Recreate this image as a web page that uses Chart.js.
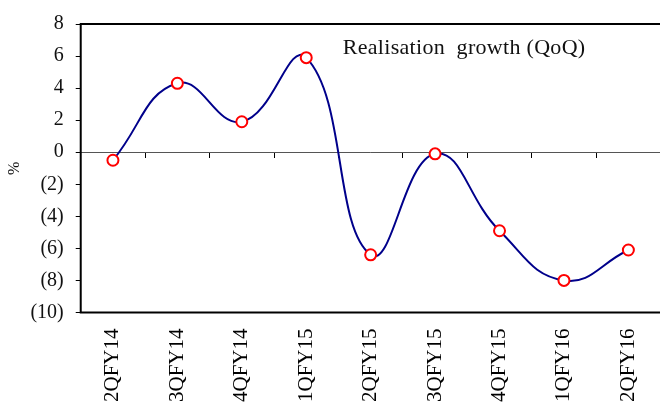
<!DOCTYPE html>
<html>
<head>
<meta charset="utf-8">
<script src="https://cdn.jsdelivr.net/npm/chart.js@4/dist/chart.umd.min.js"></script>
<style>
  html, body { margin: 0; padding: 0; background: #fff; overflow: hidden; }
  #wrap { width: 670px; height: 418px; position: relative; }
</style>
</head>
<body>
<div id="wrap"><canvas id="growthChart"></canvas></div>
<script>
"use strict";

// ── Data ──────────────────────────────────────────────────
const quarters = ["2QFY14", "3QFY14", "4QFY14", "1QFY15", "2QFY15", "3QFY15", "4QFY15", "1QFY16", "2QFY16"];
const realisationGrowth = [-0.5, 4.3, 1.9, 5.9, -6.4, -0.1, -4.9, -8.0, -6.1];
const yTicks = [-10, -8, -6, -4, -2, 0, 2, 4, 6, 8];
const seriesLabel = "Realisation  growth (QoQ)";

const serif = "'Liberation Serif', 'Times New Roman', serif";

// ── Plot frame + in-plot caption ──────────────────────────
const framePlugin = {
  id: "frame",
  afterDraw(chart) {
    const { ctx, chartArea: a } = chart;
    ctx.save();
    ctx.strokeStyle = "#000";
    ctx.lineWidth = 2;
    ctx.beginPath();
    ctx.moveTo(a.right + 5, a.top);
    ctx.lineTo(a.left, a.top);
    ctx.lineTo(a.left, a.bottom);
    ctx.lineTo(a.right + 5, a.bottom);
    ctx.stroke();

    ctx.fillStyle = "#111";
    ctx.font = "22px " + serif;
    ctx.letterSpacing = "0.3px";
    ctx.textBaseline = "middle";
    ctx.fillText(seriesLabel, a.left + 262, a.top + 24);
    ctx.restore();
  },
};

// ── Chart ─────────────────────────────────────────────────
const ctx = document.getElementById("growthChart").getContext("2d");

new Chart(ctx, {
  type: "line",
  data: {
    labels: quarters,
    datasets: [{
      label: seriesLabel,
      data: realisationGrowth,
      borderColor: "#00008b",
      borderWidth: 2,
      tension: 0.45,
      pointRadius: 5.5,
      pointBorderWidth: 2,
      pointBorderColor: "#ff0000",
      pointBackgroundColor: "#ffffff",
      clip: false,
    }],
  },
  options: {
    responsive: true,
    maintainAspectRatio: false,
    animation: false,
    layout: { padding: { left: -8, top: 11, right: 0, bottom: 0 } },
    plugins: {
      legend: { display: false },
      tooltip: { enabled: false },
    },
    scales: {
      // tick marks sitting on the zero line
      x: {
        type: "category",
        position: { y: 0 },
        offset: true,
        grid: {
          offset: true,
          drawOnChartArea: false,
          tickLength: 6,
          color: "#000",
          lineWidth: 1,
        },
        border: { display: false },
        ticks: { display: false },
      },
      // rotated quarter labels along the bottom
      x2: {
        type: "category",
        position: "bottom",
        offset: true,
        grid: { display: false, drawTicks: false },
        border: { display: false },
        ticks: {
          color: "#000",
          font: { family: serif, size: 21 },
          minRotation: 90,
          maxRotation: 90,
          padding: 16,
          autoSkip: false,
        },
      },
      y: {
        min: -10,
        max: 8,
        afterBuildTicks: axis => { axis.ticks = yTicks.map(v => ({ value: v })); },
        grid: {
          drawOnChartArea: true,
          color: c => (c.tick && c.tick.value === 0 ? "#555" : "rgba(0,0,0,0)"),
          tickColor: "#000",
          tickLength: 5,
          lineWidth: 1,
        },
        border: { display: false },
        ticks: {
          color: "#111",
          font: { family: serif, size: 20 },
          padding: 12,
          callback: v => (v < 0 ? `(${-v})` : `${v}`),
        },
        title: {
          display: true,
          text: "%",
          color: "#111",
          font: { family: serif, size: 16, lineHeight: 0.4 },
          padding: { top: 20, bottom: 0 },
        },
      },
    },
  },
  plugins: [framePlugin],
});
</script>
</body>
</html>
